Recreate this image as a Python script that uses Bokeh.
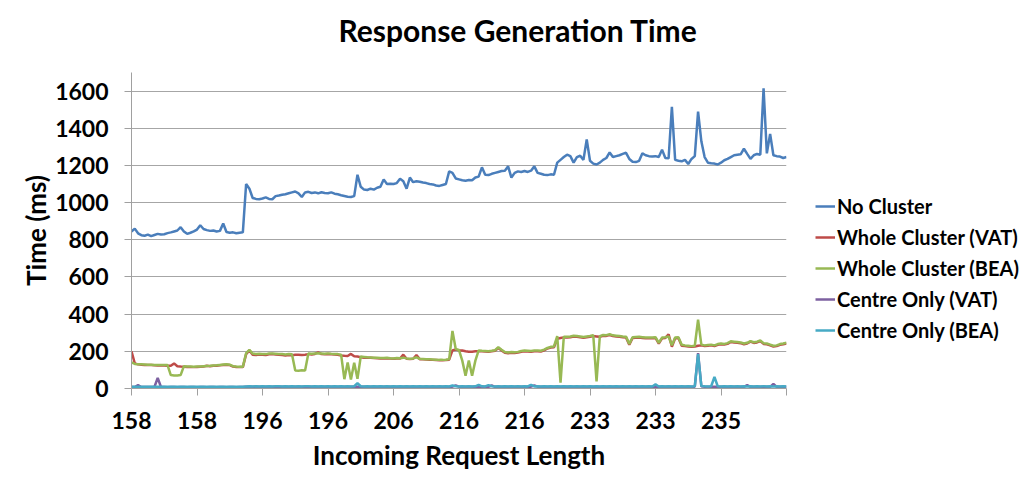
from bokeh.plotting import figure
from bokeh.models import Legend, LegendItem, FixedTicker, Range1d, Title
from bokeh.embed import file_html
from bokeh.resources import INLINE

tick_labels = ["158", "158", "196", "196", "206", "216", "216", "233", "233", "235"]
label_step = 20

no_cluster = [
    845, 860, 835, 825, 822, 828, 820, 826, 832, 828,
    830, 836, 840, 845, 850, 868, 845, 832, 838, 845,
    855, 878, 858, 852, 848, 850, 845, 848, 888, 842,
    838, 840, 835, 838, 840, 1100, 1075, 1025, 1020, 1018,
    1022, 1028, 1020, 1018, 1035, 1038, 1042, 1045, 1050, 1055,
    1060, 1050, 1030, 1055, 1058, 1052, 1055, 1050, 1056, 1052,
    1050, 1055, 1048, 1045, 1040, 1036, 1032, 1030, 1035, 1150,
    1085, 1070, 1068, 1075, 1070, 1080, 1085, 1125, 1100, 1102,
    1100, 1105, 1128, 1115, 1075, 1135, 1110, 1115, 1112, 1108,
    1105, 1100, 1098, 1092, 1090, 1095, 1100, 1168, 1160, 1130,
    1125, 1120, 1118, 1122, 1120, 1135, 1140, 1190, 1150, 1148,
    1155, 1160, 1165, 1170, 1172, 1195, 1135, 1160, 1168, 1165,
    1170, 1165, 1172, 1195, 1160, 1155, 1150, 1148, 1152, 1150,
    1215, 1230, 1245, 1258, 1250, 1215, 1245, 1252, 1230, 1340,
    1225, 1210, 1205, 1215, 1230, 1240, 1270, 1245, 1250, 1255,
    1262, 1268, 1235, 1220, 1218, 1225, 1265, 1255, 1250, 1248,
    1250, 1245, 1285, 1240, 1238, 1515, 1230, 1225, 1222, 1230,
    1208, 1235, 1250, 1490, 1330, 1245, 1215, 1212, 1210, 1205,
    1215, 1228, 1235, 1245, 1255, 1258, 1260, 1290, 1262, 1235,
    1255, 1262, 1258, 1615, 1265, 1370, 1255, 1250, 1248, 1240, 1245,
]

whole_vat = [
    200, 135, 130, 128, 127, 126, 126, 125, 124, 125,
    124, 123, 122, 135, 120, 118, 117, 116, 116, 115,
    116, 117, 118, 122, 120, 122, 123, 125, 127, 128,
    126, 118, 116, 115, 115, 185, 205, 182, 180, 183,
    182, 180, 184, 186, 183, 182, 180, 178, 180, 179,
    181, 182, 180, 182, 185, 183, 186, 195, 185, 184,
    186, 184, 183, 182, 178, 176, 175, 186, 173, 172,
    168, 166, 165, 165, 164, 163, 162, 162, 163, 161,
    160, 162, 161, 182, 160, 158, 160, 180, 158, 157,
    156, 155, 154, 153, 152, 152, 153, 155, 205, 210,
    205, 204, 200, 198, 198, 200, 201, 200, 199, 198,
    200, 203, 218, 205, 192, 190, 192, 191, 193, 198,
    200, 199, 198, 200, 201, 199, 205, 215, 220, 222,
    268, 272, 275, 274, 276, 280, 278, 275, 273, 276,
    278, 282, 280, 278, 284, 283, 288, 282, 280, 278,
    276, 275, 235, 272, 273, 274, 272, 270, 271, 270,
    272, 242, 270, 272, 292, 225, 270, 272, 230, 228,
    226, 224, 226, 230, 232, 228, 230, 232, 228, 235,
    238, 236, 240, 250, 248, 246, 244, 238, 242, 252,
    245, 248, 255, 240, 238, 232, 226, 228, 235, 238, 242,
]

whole_bea = [
    140, 132, 130, 130, 129, 128, 128, 127, 127, 127,
    126, 126, 72, 70, 70, 72, 120, 118, 118, 117,
    118, 119, 120, 121, 122, 124, 125, 127, 129, 130,
    128, 120, 118, 117, 117, 190, 208, 188, 186, 187,
    186, 185, 188, 188, 187, 186, 185, 183, 185, 184,
    97, 96, 98, 97, 188, 187, 188, 189, 188, 187,
    189, 187, 186, 185, 182, 50, 140, 48, 138, 52,
    172, 170, 168, 167, 166, 165, 164, 164, 165, 163,
    162, 164, 163, 166, 162, 160, 162, 168, 160, 159,
    158, 157, 156, 155, 154, 154, 155, 158, 310, 212,
    207, 150, 68, 150, 68, 150, 205, 203, 202, 201,
    203, 206, 222, 208, 196, 194, 196, 195, 197, 202,
    204, 203, 202, 204, 205, 203, 209, 218, 224, 226,
    282, 32, 278, 278, 280, 284, 282, 280, 277, 280,
    282, 286, 38, 282, 288, 287, 292, 286, 284, 282,
    280, 279, 240, 276, 277, 278, 276, 274, 275, 274,
    276, 246, 274, 276, 280, 232, 274, 276, 235, 232,
    230, 228, 230, 370, 236, 232, 234, 236, 232, 239,
    242, 240, 244, 254, 252, 250, 248, 242, 246, 255,
    249, 252, 258, 244, 242, 236, 230, 232, 239, 242, 246,
]

centre_vat = [
    8, 8, 18, 8, 8, 8, 8, 8, 57, 8,
    8, 7, 8, 8, 7, 8, 8, 7, 8, 8,
    7, 8, 8, 7, 8, 8, 7, 8, 8, 7,
    8, 8, 7, 8, 8, 9, 10, 9, 10, 9,
    10, 9, 10, 9, 10, 9, 10, 9, 10, 9,
    10, 9, 10, 9, 10, 9, 10, 9, 10, 9,
    10, 9, 10, 9, 10, 9, 10, 9, 10, 9,
    10, 9, 10, 9, 10, 9, 10, 9, 10, 9,
    10, 9, 10, 9, 10, 9, 10, 9, 10, 9,
    10, 9, 10, 9, 10, 9, 10, 9, 10, 16,
    10, 9, 10, 9, 10, 9, 10, 9, 10, 9,
    16, 9, 10, 9, 10, 9, 10, 9, 10, 9,
    10, 9, 10, 16, 10, 9, 10, 9, 10, 9,
    10, 9, 10, 9, 10, 9, 10, 9, 10, 9,
    10, 9, 10, 9, 10, 9, 10, 9, 10, 9,
    10, 9, 10, 9, 10, 9, 10, 9, 10, 9,
    10, 9, 10, 9, 10, 9, 10, 9, 10, 9,
    10, 9, 10, 190, 12, 9, 10, 9, 10, 9,
    10, 9, 10, 9, 10, 9, 10, 9, 18, 9,
    10, 9, 10, 9, 10, 9, 25, 9, 10, 9, 10,
]

centre_bea = [
    9, 9, 10, 9, 9, 10, 9, 9, 10, 9,
    9, 10, 9, 9, 10, 9, 9, 10, 9, 9,
    10, 9, 9, 10, 9, 9, 10, 9, 9, 10,
    9, 9, 10, 9, 9, 11, 12, 11, 12, 11,
    12, 11, 12, 11, 12, 12, 11, 12, 11, 12,
    11, 12, 11, 12, 12, 11, 12, 11, 12, 11,
    12, 11, 12, 11, 12, 11, 12, 11, 12, 28,
    12, 11, 12, 11, 12, 11, 12, 11, 12, 11,
    12, 11, 12, 11, 12, 11, 12, 11, 12, 11,
    12, 11, 12, 11, 12, 11, 12, 11, 16, 12,
    11, 12, 11, 12, 11, 12, 20, 12, 11, 18,
    12, 11, 12, 11, 12, 11, 12, 11, 12, 11,
    12, 11, 20, 11, 12, 11, 12, 11, 12, 11,
    12, 11, 12, 11, 12, 11, 12, 11, 12, 11,
    12, 11, 12, 11, 12, 11, 12, 11, 12, 11,
    12, 11, 12, 11, 12, 11, 12, 11, 12, 11,
    22, 11, 12, 11, 12, 11, 12, 11, 12, 11,
    12, 11, 12, 185, 14, 12, 11, 12, 62, 12,
    11, 12, 11, 12, 11, 12, 11, 12, 11, 12,
    11, 12, 11, 12, 11, 12, 11, 12, 11, 12, 11,
]

series_names = ["No Cluster", "Whole Cluster (VAT)", "Whole Cluster (BEA)",
                "Centre Only (VAT)", "Centre Only (BEA)"]
series_values = [no_cluster, whole_vat, whole_bea, centre_vat, centre_bea]
series_colors = ["#4A7EBB", "#BE4B48", "#98B954", "#7D60A0", "#46AAC5"]
chart_title = "Response Generation Time"

n = len(no_cluster)
idx = list(range(n))

FONT = "Lato"

p = figure(frame_width=655, frame_height=316, output_backend="svg", toolbar_location=None,
           x_range=Range1d(0, n - 1), y_range=Range1d(0, 1700),
           min_border_left=131, min_border_right=234, min_border_top=72, min_border_bottom=80,
           background_fill_color="white", border_fill_color="white")
p.outline_line_color = None

items = []
for name, vals, col in zip(series_names, series_values, series_colors):
    r = p.line(idx, vals, line_color=col, line_width=2.5)
    items.append(LegendItem(label=name, renderers=[r]))

# main title (outermost), with an empty spacer title between it and the frame
p.title.text = chart_title
p.title.align = "left"
p.title.offset = 207
p.title.standoff = 0
p.title.text_font = FONT
p.title.text_font_size = "30px"
p.title.text_font_style = "bold"
p.title.text_color = "black"

spacer = Title(text=" ", text_font=FONT, text_font_size="19px", standoff=0)
p.add_layout(spacer, "above")

# x axis
xt = list(range(0, n, label_step))
p.xaxis.ticker = FixedTicker(ticks=xt)
overrides = {}
for k, t in enumerate(xt):
    overrides[t] = tick_labels[k] if k < len(tick_labels) else ""
p.xaxis.major_label_overrides = overrides
p.xaxis.axis_label = "Incoming Request Length"
p.xaxis.axis_label_standoff = 7
p.xaxis.minor_tick_line_color = None
p.xaxis.major_tick_in = 0
p.xaxis.major_tick_out = 7
p.xaxis.major_label_standoff = 16

# y axis
yt = list(range(0, 1601, 200))
p.yaxis.ticker = FixedTicker(ticks=yt)
p.yaxis.axis_label = "Time (ms)"
p.yaxis.axis_label_standoff = 0
p.yaxis.minor_tick_line_color = None
p.yaxis.major_tick_in = 0
p.yaxis.major_tick_out = 7
p.yaxis.major_label_standoff = 16

for ax in (p.xaxis, p.yaxis):
    ax.axis_line_color = "#a0a0a0"
    ax.major_tick_line_color = "#a0a0a0"
    ax.major_label_text_font = FONT
    ax.major_label_text_font_style = "bold"
    ax.major_label_text_font_size = "23px"
    ax.major_label_text_color = "black"
    ax.axis_label_text_font = FONT
    ax.axis_label_text_font_style = "bold"
    ax.axis_label_text_font_size = "26px"
    ax.axis_label_text_color = "black"

p.xgrid.visible = False
p.ygrid.ticker = FixedTicker(ticks=yt)
p.ygrid.grid_line_color = "#a6a6a6"
p.ygrid.grid_line_width = 1

legend = Legend(items=items, location=(29, 46), orientation="vertical",
                label_text_font=FONT, label_text_font_style="bold",
                label_text_font_size="20px", label_text_color="black",
                glyph_width=20, glyph_height=24, label_height=24,
                label_standoff=2, spacing=7, padding=5,
                border_line_color=None, background_fill_alpha=0)
p.add_layout(legend, "right")

open("out.html", "w").write(file_html(p, INLINE))
